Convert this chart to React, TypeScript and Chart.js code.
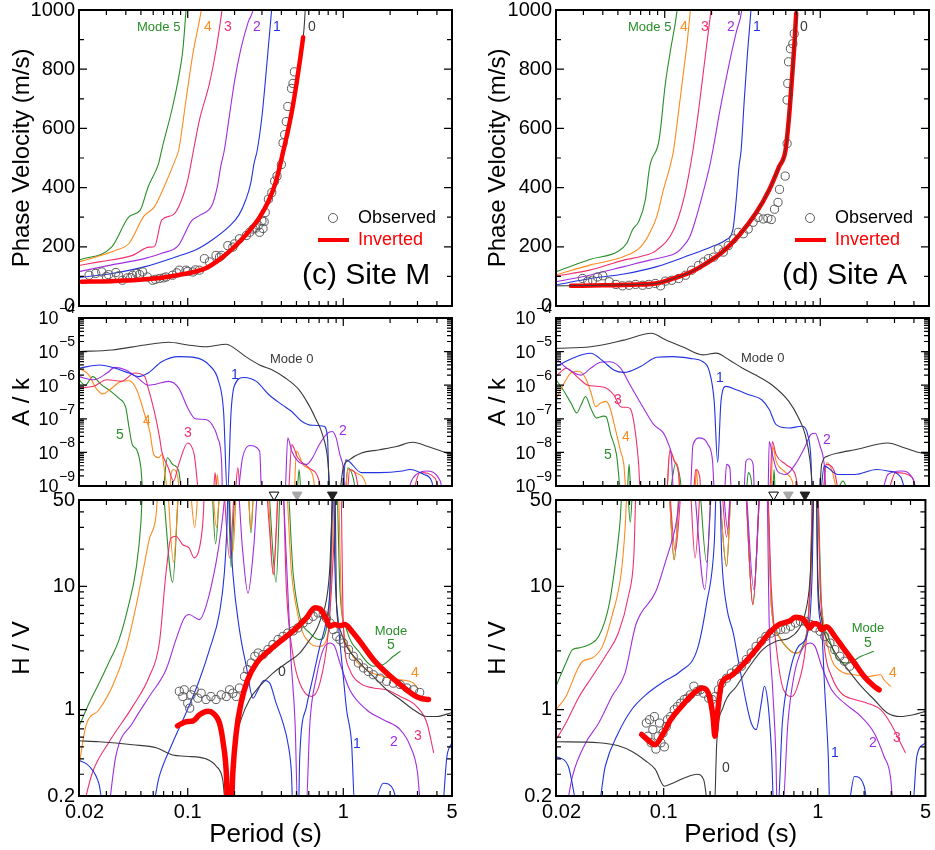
import React, { useEffect, useRef } from 'react';
import { Chart, registerables } from 'chart.js';
Chart.register(...registerables);

type P = [number, number];

// ================= Site M (left column) =================
// Phase velocity (m/s) vs period (s)
const mPv0: P[] = [[0.02,84],[0.03,86],[0.05,90],[0.08,100],[0.12,122],[0.16,152],[0.2,200],[0.25,255],[0.3,315],[0.35,385],[0.4,500],[0.45,625],[0.5,750],[0.54,865],[0.56,940],[0.575,1040]];
const mPv1: P[] = [[0.02,96],[0.0325,110],[0.0533,133],[0.0875,169],[0.112,189],[0.1435,223],[0.184,268],[0.213,307],[0.236,358],[0.254,414],[0.267,482],[0.28,527],[0.3,640],[0.318,780],[0.333,900],[0.346,1000],[0.35,1040]];
const mPv2: P[] = [[0.02,116],[0.0325,139],[0.0533,161],[0.068,178],[0.0875,206],[0.096,246],[0.105,285],[0.12,307],[0.1435,341],[0.155,403],[0.163,471],[0.172,527],[0.185,640],[0.2,760],[0.22,870],[0.245,960],[0.263,1000],[0.27,1040]];
const mPv3: P[] = [[0.02,137],[0.0269,149],[0.0442,171],[0.0566,199],[0.061,200],[0.068,290],[0.08,307],[0.0875,335],[0.1,425],[0.109,527],[0.119,629],[0.138,752],[0.152,864],[0.166,998],[0.17,1040]];
const mPv4: P[] = [[0.02,149],[0.0269,169],[0.0345,188],[0.042,212],[0.052,302],[0.061,335],[0.072,414],[0.083,493],[0.0875,527],[0.0975,696],[0.108,853],[0.122,998],[0.125,1040]];
const mPv5: P[] = [[0.02,155],[0.0325,200],[0.042,302],[0.0495,324],[0.0557,403],[0.065,482],[0.068,527],[0.08,674],[0.0883,785],[0.093,864],[0.0975,998],[0.099,1040]];
const mPvInv: P[] = [[0.0208,82],[0.0325,84],[0.0533,90],[0.0875,105],[0.13,127],[0.158,155],[0.195,195],[0.236,240],[0.29,300],[0.333,358],[0.366,414],[0.39,470],[0.41,520],[0.44,590],[0.47,665],[0.5,750],[0.53,840],[0.552,908]];
const mPvObs: P[] = [[0.0232,104],[0.0256,110],[0.028,115],[0.03,100],[0.031,106],[0.0345,113],[0.036,102],[0.038,87],[0.041,95],[0.043,96],[0.0442,104],[0.047,110],[0.049,106],[0.0513,115],[0.055,98],[0.0595,87],[0.062,90],[0.0657,93],[0.07,95],[0.0725,98],[0.08,104],[0.085,112],[0.0883,121],[0.0975,121],[0.1,117],[0.108,115],[0.112,122],[0.119,121],[0.128,160],[0.138,149],[0.152,171],[0.16,165],[0.165,171],[0.181,204],[0.195,199],[0.2,210],[0.215,227],[0.238,238],[0.25,249],[0.263,260],[0.273,263],[0.284,272],[0.29,249],[0.3,288],[0.305,262],[0.31,285],[0.315,316],[0.33,361],[0.347,383],[0.362,422],[0.375,439],[0.4,478],[0.41,551],[0.42,579],[0.43,623],[0.44,674],[0.465,735],[0.475,752],[0.485,791]];

// Amplitude A/k
const mAk0: P[] = [[0.02,1.0e-5],[0.0325,1.12e-5],[0.0533,1.58e-5],[0.0754,1.9e-5],[0.1,1.58e-5],[0.13,1.4e-5],[0.177,1.65e-5],[0.2,1.25e-5],[0.236,7.1e-6],[0.29,4.0e-6],[0.35,2.85e-6],[0.42,1.7e-6],[0.52,7.3e-7],[0.6,2.6e-7],[0.665,1.0e-7],[0.735,3.4e-8],[0.792,6.9e-9],[0.815,1.2e-9],[0.825,4e-10],[0.93,4e-10],[1.0,3.5e-9],[1.1,6.1e-9],[1.31,9.6e-9],[1.71,1.2e-8],[2.2,1.5e-8],[2.8,2.0e-8],[3.5,1.5e-8],[4.6,9.6e-9],[5.0,8.7e-9]];
const mAk1: P[] = [[0.02,3.2e-6],[0.0273,4.0e-6],[0.0325,3.4e-6],[0.0418,2.3e-6],[0.048,1.8e-6],[0.0557,2.3e-6],[0.068,5.0e-6],[0.0875,7.1e-6],[0.112,6.6e-6],[0.137,4.0e-6],[0.158,1.3e-6],[0.17,1.65e-7],[0.18,5e-10],[0.19,1.65e-7],[0.2,1.0e-6],[0.23,1.7e-6],[0.276,1.3e-6],[0.333,5.2e-7],[0.405,2.6e-7],[0.466,1.65e-7],[0.54,8.5e-8],[0.634,6.4e-8],[0.75,6.0e-8],[0.792,2.7e-8],[0.815,4e-10],[0.97,4e-10],[1.04,6e-9],[1.31,2.5e-9],[1.71,2.5e-9],[2.4,2.8e-9],[2.68,3.1e-9],[3.3,2.2e-9],[3.7,1.4e-9],[3.9,4e-10]];
const mAk2: P[] = [[0.02,1.8e-6],[0.0248,1.45e-6],[0.0303,2.3e-6],[0.034,3.4e-6],[0.04,2.85e-6],[0.048,1.6e-6],[0.0557,1.0e-6],[0.061,1.05e-6],[0.0754,1.3e-6],[0.0875,8.2e-7],[0.1,2.1e-7],[0.112,1.0e-7],[0.13,9.5e-8],[0.1435,6.7e-8],[0.156,2.7e-8],[0.165,5.5e-9],[0.168,4e-10],[0.206,4e-10],[0.225,6.9e-9],[0.25,1.6e-8],[0.29,1.1e-8],[0.3,4e-10],[0.42,4e-10],[0.44,2.7e-8],[0.466,1.1e-8],[0.51,5.5e-9],[0.58,4.4e-9],[0.634,6.9e-9],[0.7,1.7e-8],[0.79,3.7e-8],[0.85,4.2e-8],[0.9,2.7e-8],[0.95,8.7e-9],[1.0,3.5e-9],[1.04,4e-10],[2.45,4e-10],[2.8,1.7e-9],[3.4,2.8e-9],[4.2,1.4e-9],[4.4,4e-10]];
const mAk3: P[] = [[0.02,8.2e-7],[0.0248,9.3e-7],[0.0303,1.45e-6],[0.0375,1.3e-6],[0.0456,2.3e-6],[0.053,1.8e-6],[0.0557,8.2e-7],[0.061,1.65e-7],[0.066,2.7e-8],[0.068,1.1e-8],[0.075,3.5e-9],[0.081,1.4e-9],[0.0875,4.4e-9],[0.1,1.9e-8],[0.11,8.7e-9],[0.12,4e-10],[0.145,4e-10],[0.15,2.5e-9],[0.155,4e-10],[0.2,4e-10],[0.21,3.5e-9],[0.22,4e-10],[0.44,4e-10],[0.466,1.7e-8],[0.51,6.9e-9],[0.6,3.5e-9],[0.7,1.4e-9],[0.73,4e-10],[1.05,4e-10],[1.1,3.1e-9],[1.2,2.2e-9],[1.3,4e-10],[2.7,4e-10],[3.1,2.5e-9],[3.9,1.7e-9],[4.2,4e-10]];
const mAk4: P[] = [[0.02,3.2e-6],[0.0232,2.0e-6],[0.0257,8.2e-7],[0.0285,5.5e-7],[0.031,6.9e-7],[0.0375,1.3e-6],[0.042,1.35e-6],[0.047,7.3e-7],[0.053,1.3e-7],[0.057,4.2e-8],[0.0605,8.6e-9],[0.065,6.9e-9],[0.068,8.6e-9],[0.0715,2.2e-9],[0.076,4e-10],[0.078,2.2e-9],[0.081,3.1e-9],[0.086,2.0e-9],[0.09,4e-10],[0.15,4e-10],[0.155,2.2e-9],[0.16,4e-10],[0.48,4e-10],[0.5,1.1e-8],[0.55,4.4e-9],[0.634,2.2e-9],[0.68,4e-10],[1.02,4e-10],[1.07,3.1e-9],[1.2,2.5e-9],[1.4,1.1e-9],[1.45,4e-10]];
const mAk5: P[] = [[0.02,1.45e-6],[0.0219,1.0e-6],[0.0245,1.8e-6],[0.0275,1.1e-6],[0.0325,6.2e-7],[0.036,4.1e-7],[0.04,2.1e-7],[0.042,5.3e-8],[0.044,1.7e-8],[0.047,1.2e-8],[0.05,3.5e-9],[0.052,4e-10],[0.068,4e-10],[0.074,6.9e-9],[0.08,4.4e-9],[0.0875,2.8e-9],[0.093,4e-10],[0.5,4e-10],[0.52,3.1e-9],[0.54,4e-10],[1.02,4e-10],[1.07,3.5e-9],[1.16,1.7e-9],[1.22,4e-10]];

// H/V spectral ratio
const mHv0: P[] = [[0.02,0.56],[0.0269,0.55],[0.0442,0.52],[0.0634,0.49],[0.08,0.43],[0.0975,0.42],[0.131,0.4],[0.152,0.35],[0.168,0.27],[0.177,0.15],[0.19,0.15],[0.205,0.57],[0.22,0.83],[0.25,1.21],[0.29,1.55],[0.353,1.98],[0.431,2.39],[0.525,2.88],[0.61,3.7],[0.673,4.46],[0.725,5.71],[0.78,7.8],[0.82,14.5],[0.84,32.5],[0.86,90],[0.88,90],[0.906,6.88],[0.952,4.46],[1.05,3.26],[1.28,2.39],[1.56,1.86],[1.9,1.45],[2.32,1.21],[2.83,1.0],[3.45,0.88],[3.99,0.88],[5.0,0.95]];
const mHv1: P[] = [[0.02,0.39],[0.0232,0.35],[0.0269,0.25],[0.029,0.15],[0.058,0.15],[0.0657,0.29],[0.08,0.54],[0.0975,0.94],[0.119,1.75],[0.138,3.07],[0.16,6.08],[0.172,12.8],[0.179,32.5],[0.183,90],[0.187,32.5],[0.195,12.8],[0.215,4.46],[0.238,2.25],[0.263,1.24],[0.28,1.41],[0.31,1.73],[0.336,1.65],[0.37,1.13],[0.41,0.78],[0.44,0.54],[0.464,0.31],[0.475,0.15],[0.515,0.15],[0.525,0.42],[0.58,1.06],[0.64,1.86],[0.707,3.26],[0.78,5.37],[0.82,9.4],[0.845,37],[0.865,90],[0.88,17.5],[0.93,5.04],[1.0,1.86],[1.05,1.0],[1.13,0.54],[1.19,0.15],[1.5,0.15],[1.81,0.254],[2.1,0.224],[2.3,0.15],[4.3,0.15],[4.64,0.42],[5.0,0.54]];
const mHv2: P[] = [[0.031,0.15],[0.0345,0.42],[0.0442,0.78],[0.0566,1.28],[0.0725,2.11],[0.084,3.7],[0.095,5.54],[0.102,5.9],[0.119,5.37],[0.131,6.88],[0.152,15.5],[0.164,28.7],[0.172,50],[0.178,90],[0.205,90],[0.225,20],[0.244,8.8],[0.265,20],[0.29,90],[0.4,90],[0.43,17.5],[0.46,2.71],[0.49,0.78],[0.51,0.15],[0.575,0.15],[0.61,0.78],[0.673,1.86],[0.743,3.07],[0.82,3.47],[0.88,3.26],[0.952,2.39],[1.1,1.45],[1.41,1.0],[1.81,0.83],[2.32,0.69],[2.69,0.51],[3.0,0.31],[3.15,0.15]];
const mHv3: P[] = [[0.021,0.15],[0.0244,0.31],[0.031,0.54],[0.0442,1.06],[0.0566,1.86],[0.0657,3.47],[0.0725,12.8],[0.078,24.6],[0.084,25.4],[0.093,21.7],[0.102,20.5],[0.11,17.0],[0.119,20.5],[0.125,32.5],[0.131,90],[0.165,90],[0.186,17],[0.205,90],[0.31,90],[0.335,30],[0.355,12.5],[0.372,30],[0.39,90],[0.405,90],[0.431,9.4],[0.476,2.71],[0.525,1.64],[0.625,1.28],[0.707,1.64],[0.8,4.18],[0.862,17.5],[0.91,90],[0.96,90],[1.0,5.04],[1.1,2.11],[1.28,1.64],[1.56,1.5],[1.9,1.45],[2.32,1.28],[2.97,1.06],[3.45,0.78],[3.81,0.45]];
const mHv4: P[] = [[0.02,0.35],[0.0221,0.73],[0.0269,1.0],[0.0328,1.55],[0.04,3.07],[0.0465,6.88],[0.0513,12.8],[0.0566,24],[0.0625,37],[0.066,90],[0.072,90],[0.081,15.7],[0.09,90],[0.1,90],[0.111,30],[0.12,90],[0.14,90],[0.153,30],[0.165,90],[0.18,90],[0.195,19],[0.21,90],[0.24,90],[0.255,29],[0.27,90],[0.32,90],[0.355,12.4],[0.39,90],[0.42,90],[0.465,12.8],[0.525,5.04],[0.61,3.47],[0.707,3.26],[0.8,4.18],[0.84,12.8],[0.875,90],[0.92,90],[0.975,6.88],[1.1,3.07],[1.41,2.11],[1.81,1.86],[2.32,1.75],[2.83,1.64],[3.0,1.5]];
const mHv5: P[] = [[0.02,0.73],[0.0232,1.13],[0.0269,1.64],[0.031,2.39],[0.0362,3.7],[0.041,6.47],[0.0465,13.7],[0.05,32.5],[0.052,90],[0.066,90],[0.08,10.8],[0.09,90],[0.14,90],[0.151,22],[0.165,90],[0.18,90],[0.19,14.2],[0.205,90],[0.24,90],[0.255,27],[0.27,90],[0.32,90],[0.37,10.8],[0.4,90],[0.43,90],[0.476,12.8],[0.525,5.71],[0.61,4.18],[0.707,3.7],[0.8,5.71],[0.84,17.5],[0.87,90],[0.9,90],[0.952,9.4],[1.05,4.46],[1.28,2.88],[1.56,2.25],[1.81,2.32],[2.1,2.71],[2.32,2.97]];
const mHvInv: P[] = [[0.086,0.74],[0.0975,0.8],[0.108,0.81],[0.119,0.91],[0.135,0.97],[0.145,0.94],[0.16,0.78],[0.169,0.54],[0.177,0.31],[0.181,0.15],[0.19,0.15],[0.195,0.31],[0.205,0.65],[0.22,1.13],[0.243,1.75],[0.277,2.39],[0.32,2.88],[0.37,3.37],[0.431,3.93],[0.5,4.6],[0.58,5.54],[0.657,6.7],[0.707,6.56],[0.78,5.37],[0.82,4.74],[0.88,4.9],[0.952,4.8],[1.025,4.9],[1.16,4.18],[1.35,3.26],[1.56,2.55],[1.9,1.98],[2.32,1.6],[2.83,1.32],[3.12,1.24],[3.53,1.21]];
const mHvObs: P[] = [[0.0883,1.41],[0.093,1.28],[0.095,1.45],[0.1,1.13],[0.103,1.03],[0.105,1.32],[0.11,1.45],[0.116,1.24],[0.122,1.36],[0.131,1.21],[0.141,1.28],[0.152,1.21],[0.164,1.32],[0.177,1.28],[0.186,1.45],[0.195,1.36],[0.205,1.28],[0.215,1.5],[0.232,1.86],[0.243,2.11],[0.256,2.39],[0.27,2.71],[0.284,2.88],[0.305,2.8],[0.328,3.07],[0.353,3.37],[0.381,3.7],[0.41,3.93],[0.44,4.18],[0.476,4.35],[0.51,4.6],[0.552,5.04],[0.595,5.37],[0.64,5.71],[0.69,6.08],[0.743,5.9],[0.78,5.5],[0.82,5.04],[0.862,4.46],[0.906,3.93],[0.952,3.7],[1.0,3.47],[1.08,3.07],[1.16,2.71],[1.25,2.39],[1.35,2.18],[1.45,2.04],[1.56,1.92],[1.72,1.8],[1.9,1.7],[2.1,1.64],[2.32,1.6],[2.56,1.5],[2.83,1.45],[3.1,1.38]];
const mMarks: number[] = [0.359, 0.505, 0.85];

// ================= Site A (right column) =================
const aPv0: P[] = [[0.02,68],[0.04,70],[0.06,72],[0.089,77],[0.114,93],[0.145,113],[0.185,144],[0.237,184],[0.302,240],[0.385,313],[0.469,392],[0.543,470],[0.598,527],[0.63,640],[0.66,780],[0.685,900],[0.71,1000],[0.72,1040]];
const aPv1: P[] = [[0.02,71],[0.0334,93],[0.0546,108],[0.0889,133],[0.145,172],[0.2,200],[0.247,223],[0.274,257],[0.288,358],[0.3,470],[0.31,527],[0.325,700],[0.34,850],[0.358,998],[0.362,1040]];
const aPv2: P[] = [[0.02,82],[0.0334,105],[0.0546,133],[0.08,155],[0.102,167],[0.117,178],[0.128,195],[0.145,234],[0.16,302],[0.176,381],[0.194,470],[0.204,527],[0.23,680],[0.26,820],[0.29,930],[0.313,1000],[0.318,1040]];
const aPv3: P[] = [[0.02,101],[0.0334,122],[0.0546,155],[0.07,167],[0.0889,189],[0.114,257],[0.132,358],[0.142,437],[0.152,527],[0.165,660],[0.178,800],[0.19,920],[0.198,998],[0.201,1040]];
const aPv4: P[] = [[0.02,105],[0.0334,139],[0.0546,167],[0.07,200],[0.08,246],[0.0889,302],[0.098,392],[0.108,470],[0.114,527],[0.123,660],[0.132,790],[0.14,900],[0.146,998],[0.148,1040]];
const aPv5: P[] = [[0.02,116],[0.0334,158],[0.05,184],[0.057,212],[0.062,257],[0.068,285],[0.075,358],[0.08,470],[0.092,561],[0.101,752],[0.109,865],[0.12,998],[0.122,1040]];
const aPvInv: P[] = [[0.025,68],[0.04,70],[0.06,72],[0.089,77],[0.114,93],[0.145,113],[0.185,144],[0.237,184],[0.302,240],[0.385,313],[0.469,392],[0.543,470],[0.598,527],[0.63,640],[0.66,780],[0.685,900],[0.7,989]];
const aPvObs: P[] = [[0.0296,93],[0.032,84],[0.0344,87],[0.037,98],[0.04,102],[0.044,82],[0.0485,73],[0.0535,68],[0.059,70],[0.065,73],[0.072,70],[0.079,73],[0.087,76],[0.094,68],[0.101,84],[0.111,87],[0.123,93],[0.136,104],[0.149,121],[0.165,137],[0.178,149],[0.191,160],[0.206,165],[0.221,193],[0.238,182],[0.256,204],[0.276,227],[0.297,249],[0.32,244],[0.344,260],[0.37,283],[0.398,299],[0.43,294],[0.46,296],[0.484,292],[0.508,327],[0.535,350],[0.547,394],[0.595,439],[0.612,549],[0.612,696],[0.618,752],[0.625,825],[0.643,869],[0.666,886],[0.68,920]];

const aAk0: P[] = [[0.02,1.25e-5],[0.0334,1.4e-5],[0.0546,2.2e-5],[0.082,3.5e-5],[0.102,2.2e-5],[0.13,1.4e-5],[0.176,8e-6],[0.214,9e-6],[0.26,5.6e-6],[0.317,3.2e-6],[0.385,2.0e-6],[0.492,1.0e-6],[0.628,3.3e-7],[0.726,1.05e-7],[0.8,3.4e-8],[0.86,5.5e-9],[0.885,1.2e-9],[0.895,4e-10],[0.98,4e-10],[1.02,4.4e-9],[1.12,7.8e-9],[1.3,9.6e-9],[1.67,1.2e-8],[2.72,1.9e-8],[3.5,1.35e-8],[4.44,9.6e-9],[5.0,8.7e-9]];
const aAk1: P[] = [[0.02,3.6e-6],[0.026,6.6e-6],[0.0334,8.9e-6],[0.0405,5.0e-6],[0.047,2.85e-6],[0.0546,2.4e-6],[0.07,3.6e-6],[0.0889,6.8e-6],[0.114,7.1e-6],[0.145,6.3e-6],[0.176,5.0e-6],[0.194,2.5e-6],[0.208,3.3e-7],[0.219,5e-9],[0.23,3.3e-7],[0.247,9.2e-7],[0.288,7.3e-7],[0.348,5.2e-7],[0.42,3.7e-7],[0.47,1.9e-7],[0.52,6.7e-8],[0.628,5.3e-8],[0.76,6.0e-8],[0.83,3.4e-8],[0.87,6.9e-9],[0.89,4e-10],[0.99,4e-10],[1.06,3.9e-9],[1.3,2.2e-9],[1.67,2.2e-9],[2.3,3.1e-9],[2.72,2.8e-9],[3.3,1.8e-9],[3.6,4e-10]];
const aAk2: P[] = [[0.02,6.3e-6],[0.0235,3.2e-6],[0.029,2.0e-6],[0.0334,3.2e-6],[0.0385,4.8e-6],[0.0445,5.0e-6],[0.052,3.2e-6],[0.06,1.0e-6],[0.073,2.1e-7],[0.085,6.7e-8],[0.098,3.8e-8],[0.105,1.9e-8],[0.11,8.6e-9],[0.115,4e-10],[0.145,4e-10],[0.152,1.7e-8],[0.168,2.7e-8],[0.19,1.7e-8],[0.203,5.5e-9],[0.21,4e-10],[0.24,4e-10],[0.25,4.4e-9],[0.262,3.5e-9],[0.27,4e-10],[0.32,4e-10],[0.333,5.5e-9],[0.35,6.5e-9],[0.37,4.4e-9],[0.38,4e-10],[0.46,4e-10],[0.47,2.1e-8],[0.492,8.6e-9],[0.53,2.8e-9],[0.6,2.2e-9],[0.69,4.4e-9],[0.8,1.5e-8],[0.87,3.4e-8],[0.93,3.7e-8],[0.99,1.7e-8],[1.06,4.4e-9],[1.1,4e-10],[2.4,4e-10],[2.72,2.2e-9],[3.3,2.8e-9],[4.0,1.4e-9],[4.2,4e-10]];
const aAk3: P[] = [[0.02,1.8e-6],[0.0233,3.2e-6],[0.028,1.6e-6],[0.032,1.0e-6],[0.0365,9.3e-7],[0.042,8.2e-7],[0.047,5.2e-7],[0.052,2.3e-7],[0.056,2.2e-7],[0.06,2.0e-7],[0.062,1.3e-7],[0.065,3.4e-8],[0.068,4.4e-9],[0.07,4e-10],[0.102,4e-10],[0.108,1.2e-8],[0.115,5.5e-9],[0.123,2.2e-9],[0.126,4e-10],[0.152,4e-10],[0.158,3.1e-9],[0.168,1.8e-9],[0.172,4e-10],[0.47,4e-10],[0.492,2.1e-8],[0.52,8.6e-9],[0.6,4.4e-9],[0.69,2.2e-9],[0.75,4e-10],[1.03,4e-10],[1.09,4.4e-9],[1.23,2.8e-9],[1.35,4e-10],[2.6,4e-10],[3.05,2.5e-9],[3.9,1.8e-9],[4.2,4e-10]];
const aAk4: P[] = [[0.02,3.7e-7],[0.0222,1.0e-6],[0.0252,2.4e-6],[0.028,2.6e-6],[0.031,1.6e-6],[0.0334,6.5e-7],[0.036,2.3e-7],[0.0385,2.9e-7],[0.042,3.3e-7],[0.0445,2.1e-7],[0.048,5.3e-8],[0.052,1.1e-8],[0.0546,4.4e-9],[0.057,4e-10],[0.102,4e-10],[0.108,1.1e-8],[0.115,6e-9],[0.123,2.2e-9],[0.126,4e-10],[0.155,4e-10],[0.16,3.1e-9],[0.165,4e-10],[0.48,4e-10],[0.495,1.5e-8],[0.52,5.5e-9],[0.6,2.5e-9],[0.66,1.4e-9],[0.7,4e-10],[1.03,4e-10],[1.1,5e-9],[1.2,2.5e-9],[1.3,4e-10]];
const aAk5: P[] = [[0.02,1.45e-6],[0.0222,7.3e-7],[0.025,2.9e-7],[0.0272,1.5e-7],[0.029,2.6e-7],[0.031,4.6e-7],[0.0334,2.1e-7],[0.0365,1.05e-7],[0.0405,1.2e-7],[0.042,1.15e-7],[0.045,3.4e-8],[0.049,8.6e-9],[0.053,4e-10],[0.057,4e-10],[0.059,4.4e-9],[0.061,4e-10],[0.105,4e-10],[0.118,4.9e-9],[0.126,1.5e-9],[0.13,4e-10],[0.33,4e-10],[0.345,2.5e-9],[0.36,1.5e-9],[0.37,4e-10],[0.49,4e-10],[0.505,3.1e-9],[0.515,4e-10],[1.2,4e-10],[1.4,1.4e-9],[1.55,4e-10]];

const aHv0: P[] = [[0.02,0.55],[0.0379,0.54],[0.0508,0.51],[0.0619,0.46],[0.0753,0.39],[0.088,0.33],[0.101,0.24],[0.111,0.25],[0.136,0.28],[0.165,0.3],[0.182,0.27],[0.197,0.15],[0.213,0.15],[0.221,0.54],[0.244,1.06],[0.297,1.55],[0.361,2.25],[0.439,3.07],[0.535,3.59],[0.65,3.8],[0.75,4.46],[0.83,6.08],[0.89,11.3],[0.925,32.5],[0.95,90],[0.975,90],[1.0,12.8],[1.06,5.37],[1.23,3.26],[1.57,2.11],[1.91,1.55],[2.32,1.21],[2.83,0.94],[3.44,0.88],[4.18,0.91],[5.0,0.97]];
const aHv1: P[] = [[0.02,0.42],[0.024,0.35],[0.0283,0.15],[0.037,0.15],[0.0418,0.35],[0.0508,0.65],[0.0619,1.0],[0.0787,1.36],[0.101,1.7],[0.128,2.04],[0.165,3.07],[0.19,7.3],[0.213,22.4],[0.222,90],[0.229,90],[0.238,17.5],[0.256,6.88],[0.283,4.18],[0.31,2.25],[0.344,1.13],[0.37,0.78],[0.398,0.69],[0.43,1.13],[0.45,1.55],[0.475,1.13],[0.5,0.48],[0.52,0.15],[0.55,0.15],[0.589,0.78],[0.65,1.86],[0.75,3.26],[0.87,4.46],[0.92,12.8],[0.95,90],[0.975,90],[1.0,9.4],[1.06,4.46],[1.11,1.45],[1.17,0.42],[1.2,0.15],[1.55,0.15],[1.73,0.288],[2.0,0.24],[2.15,0.15],[4.1,0.15],[4.4,0.42],[5.0,0.54]];
const aHv2: P[] = [[0.0232,0.15],[0.0256,0.29],[0.0312,0.54],[0.0379,0.78],[0.0461,1.28],[0.0561,1.98],[0.066,4.9],[0.089,9.1],[0.103,16],[0.119,30],[0.138,90],[0.15,90],[0.185,9.4],[0.21,90],[0.235,90],[0.26,29],[0.28,90],[0.33,90],[0.385,9.4],[0.43,90],[0.465,90],[0.484,5.04],[0.51,1.45],[0.535,0.42],[0.545,0.15],[0.59,0.15],[0.64,0.78],[0.7,1.86],[0.79,3.07],[0.89,3.47],[0.96,3.26],[1.06,2.25],[1.23,1.45],[1.49,1.13],[1.91,0.88],[2.32,0.65],[2.69,0.42],[2.96,0.29],[3.1,0.15]];
const aHv3: P[] = [[0.02,0.57],[0.0232,0.78],[0.0283,1.28],[0.0344,1.86],[0.0418,2.71],[0.0508,4.18],[0.059,8.3],[0.064,17.5],[0.067,90],[0.105,90],[0.119,19.3],[0.135,90],[0.145,90],[0.16,17],[0.178,90],[0.23,90],[0.256,25],[0.28,90],[0.33,90],[0.379,7.1],[0.435,90],[0.465,90],[0.5,9.4],[0.547,2.71],[0.6,1.45],[0.68,1.28],[0.75,1.64],[0.83,3.07],[0.89,9.4],[0.94,90],[0.985,90],[1.04,9.4],[1.11,3.07],[1.23,1.86],[1.42,1.36],[1.73,1.21],[2.1,1.13],[2.56,1.0],[2.96,0.78],[3.44,0.54],[3.7,0.45]];
const aHv4: P[] = [[0.02,1.0],[0.0232,1.28],[0.0275,2.11],[0.0298,2.47],[0.0344,2.62],[0.04,3.26],[0.0461,5.71],[0.053,12.8],[0.0561,28.7],[0.059,90],[0.105,90],[0.117,16.4],[0.13,90],[0.22,90],[0.256,14.5],[0.28,90],[0.33,90],[0.379,7.1],[0.435,90],[0.465,90],[0.5,6.9],[0.56,3.93],[0.65,3.07],[0.72,2.88],[0.81,3.26],[0.87,5.71],[0.915,17.5],[0.944,90],[0.985,90],[1.04,9.4],[1.11,4.46],[1.23,2.55],[1.42,2.04],[1.73,1.92],[2.1,1.86],[2.56,1.92],[2.69,1.75],[2.96,1.55]];
const aHv5: P[] = [[0.02,1.55],[0.0232,2.39],[0.0256,3.07],[0.0283,3.17],[0.033,3.37],[0.0379,3.93],[0.044,6.88],[0.0483,14.5],[0.052,32.5],[0.055,90],[0.057,90],[0.0607,33],[0.064,90],[0.105,90],[0.117,16.4],[0.13,90],[0.165,90],[0.19,15.7],[0.21,90],[0.22,90],[0.256,14.5],[0.28,90],[0.33,90],[0.379,7.1],[0.435,90],[0.465,90],[0.5,6.9],[0.56,3.93],[0.65,3.07],[0.72,2.88],[0.79,3.17],[0.89,9.4],[0.94,90],[0.985,90],[1.06,6.9],[1.17,3.93],[1.35,2.55],[1.57,2.39],[1.91,2.71],[2.3,2.97]];
const aHvInv: P[] = [[0.072,0.63],[0.083,0.54],[0.088,0.52],[0.097,0.61],[0.111,0.83],[0.136,1.13],[0.157,1.36],[0.178,1.5],[0.195,1.36],[0.209,0.88],[0.215,0.61],[0.222,0.88],[0.238,1.64],[0.269,1.86],[0.327,2.32],[0.398,3.07],[0.484,4.18],[0.56,4.9],[0.65,5.2],[0.717,5.6],[0.81,5.37],[0.89,4.6],[0.93,5.0],[1.01,4.9],[1.06,4.46],[1.14,4.7],[1.29,3.93],[1.49,3.07],[1.73,2.39],[2.0,1.86],[2.32,1.55],[2.5,1.45]];
const aHvObs: P[] = [[0.0772,0.78],[0.079,0.61],[0.081,0.83],[0.083,0.54],[0.085,0.69],[0.087,0.88],[0.089,0.48],[0.092,0.61],[0.094,0.78],[0.096,0.54],[0.099,0.65],[0.101,0.5],[0.104,0.73],[0.106,0.83],[0.111,0.88],[0.117,1.0],[0.123,1.06],[0.129,1.13],[0.136,1.21],[0.142,1.24],[0.149,1.32],[0.157,1.55],[0.165,1.41],[0.173,1.45],[0.182,1.36],[0.196,1.24],[0.206,1.21],[0.216,1.28],[0.227,1.45],[0.238,1.64],[0.256,1.8],[0.275,1.98],[0.297,2.11],[0.319,2.25],[0.344,2.55],[0.37,2.88],[0.398,3.26],[0.43,3.59],[0.461,3.93],[0.496,4.18],[0.535,4.32],[0.575,4.46],[0.618,4.5],[0.666,4.74],[0.717,5.04],[0.771,5.2],[0.83,5.2],[0.894,4.9],[0.962,4.6],[1.035,4.32],[1.11,3.93],[1.2,3.47],[1.29,3.07],[1.39,2.71],[1.49,2.47],[1.61,2.25]];
const aMarks: number[] = [0.517, 0.644, 0.826];

// ================= axis tick labels =================
const X_LABELS = [0.02, 0.1, 1, 5];
const HV_LABELS = [0.2, 1, 10, 50];
const AK_DECADES = [-9, -8, -7, -6, -5, -4];

// ================= styling =================
const FONT = "'Liberation Sans', Arial, Helvetica, sans-serif";
const C = { m0: '#3a3a3a', m1: '#2233e0', m2: '#a02ee0', m3: '#f0306c', m4: '#ff8a1e', m5: '#2a8e2a', obs: '#5a5a5a', inv: '#ff0000' };
const MARK_Y = 55;

const X_MAJOR = [0.1, 1];
const X_MINOR = [0.03, 0.04, 0.05, 0.06, 0.07, 0.08, 0.09, 0.2, 0.3, 0.4, 0.5, 0.6, 0.7, 0.8, 0.9, 2, 3, 4];
const AK_MINOR: number[] = [];
for (let n = -9; n < -4; n++) for (let k = 2; k <= 9; k++) AK_MINOR.push(k * Math.pow(10, n));
const TICKS: any = {
  pv: { major: [200, 400, 600, 800], minor: [100, 300, 500, 700, 900] },
  ak: { major: [1e-8, 1e-7, 1e-6, 1e-5], minor: AK_MINOR },
  hv: { major: [1, 10], minor: [0.3, 0.4, 0.5, 0.6, 0.7, 0.8, 0.9, 2, 3, 4, 5, 6, 7, 8, 9, 20, 30, 40] },
};

const COLS = [
  { left: 0, width: 470, axisW: 79, padR: 18, titlePad: 8 },
  { left: 470, width: 465, axisW: 86, padR: 6, titlePad: 13.6 },
];
const ROWS: any = {
  pv: { top: -20, height: 350, padT: 30, padB: 24 },
  ak: { top: 290, height: 220, padT: 28, padB: 24 },
  hv: { top: 470, height: 380, padT: 30, padB: 0 },
};

const xy = (d: P[]) => d.map(([x, y]) => ({ x, y }));
const line = (d: P[], color: string, width = 1.1) => ({
  data: xy(d), borderColor: color, backgroundColor: color, borderWidth: width,
  pointRadius: 0, pointHoverRadius: 0, fill: false, cubicInterpolationMode: 'monotone',
  borderJoinStyle: 'round', borderCapStyle: 'round',
});
const obs = (d: P[]) => ({
  data: xy(d), showLine: false, pointRadius: 4.1, pointHoverRadius: 4.1, pointBorderWidth: 1,
  pointBorderColor: C.obs, pointBackgroundColor: 'rgba(0,0,0,0)', borderColor: C.obs, backgroundColor: 'rgba(0,0,0,0)',
});
const marks = (d: number[]) => ({
  data: d.map((x) => ({ x, y: MARK_Y })), showLine: false, clip: false,
  pointStyle: 'triangle', pointRotation: 180, pointRadius: 5.6, pointHoverRadius: 5.6, pointBorderWidth: 1,
  pointBackgroundColor: ['#ffffff', '#a8a8a8', '#222222'], pointBorderColor: ['#000000', '#a8a8a8', '#222222'],
});

interface Txt { t: string; x: number; y: number; c?: string; s?: number; a?: CanvasTextAlign }
interface Leg { cx: number; cy: number; x1: number; x2: number; ly: number }

const decor = {
  id: 'decor',
  afterDatasetsDraw(chart: any, _a: any, o: any) {
    const { ctx, chartArea: a } = chart;
    const xs = chart.scales.x, ys = chart.scales.y;
    ctx.save();
    ctx.strokeStyle = '#000';
    ctx.lineWidth = 1.2;
    ctx.beginPath();
    const xt = (v: number, len: number) => {
      const p = xs.getPixelForValue(v);
      ctx.moveTo(p, a.top); ctx.lineTo(p, a.top + len);
      ctx.moveTo(p, a.bottom); ctx.lineTo(p, a.bottom - len);
    };
    const yt = (v: number, len: number) => {
      const p = ys.getPixelForValue(v);
      ctx.moveTo(a.left, p); ctx.lineTo(a.left + len, p);
      ctx.moveTo(a.right, p); ctx.lineTo(a.right - len, p);
    };
    X_MAJOR.forEach((v) => xt(v, 8));
    X_MINOR.forEach((v) => xt(v, 5));
    const t = TICKS[o.kind];
    t.major.forEach((v: number) => yt(v, 8));
    t.minor.forEach((v: number) => yt(v, 5));
    ctx.stroke();
    ctx.lineWidth = 2;
    ctx.strokeRect(a.left, a.top, a.right - a.left, a.bottom - a.top);
    if (o.kind === 'ak') {
      ctx.fillStyle = '#000';
      ctx.textAlign = 'right';
      ctx.textBaseline = 'middle';
      for (const n of AK_DECADES) {
        const p = ys.getPixelForValue(Math.pow(10, n));
        const right = a.left - 4;
        const sup = '\u2212' + String(-n);
        ctx.font = `14px ${FONT}`;
        ctx.fillText(sup, right, p - 9);
        const w = ctx.measureText(sup).width;
        ctx.font = `18px ${FONT}`;
        ctx.fillText('10', right - w - 0.5, p + 1.5);
      }
    }
    ctx.restore();
  },
  afterDraw(chart: any, _a: any, o: any) {
    const ctx = chart.ctx;
    ctx.save();
    ctx.textBaseline = 'middle';
    for (const t of o.texts as Txt[]) {
      ctx.font = `${t.s ?? 14}px ${FONT}`;
      ctx.fillStyle = t.c ?? '#000';
      ctx.textAlign = t.a ?? 'center';
      ctx.fillText(t.t, t.x - o.ox, t.y - o.oy);
    }
    const lg: Leg | undefined = o.legend;
    if (lg) {
      ctx.beginPath();
      ctx.arc(lg.cx - o.ox, lg.cy - o.oy, 4.5, 0, Math.PI * 2);
      ctx.strokeStyle = C.obs; ctx.lineWidth = 1;
      ctx.stroke();
      ctx.beginPath();
      ctx.moveTo(lg.x1 - o.ox, lg.ly - o.oy); ctx.lineTo(lg.x2 - o.ox, lg.ly - o.oy);
      ctx.strokeStyle = C.inv; ctx.lineWidth = 4;
      ctx.stroke();
    }
    ctx.restore();
  },
};

interface Spec { kind: 'pv' | 'ak' | 'hv'; col: 0 | 1; datasets: any[]; texts: Txt[]; legend?: Leg }

function buildConfig(s: Spec) {
  const cx = COLS[s.col], rw = ROWS[s.kind];
  const ds = s.datasets.map((d, i) => ({ ...d, order: s.datasets.length - i }));
  const titles = { pv: 'Phase Velocity (m/s)', ak: 'A / k', hv: 'H / V' };
  const y: any = {
    type: s.kind === 'pv' ? 'linear' : 'logarithmic',
    min: s.kind === 'pv' ? 0 : s.kind === 'ak' ? 1e-9 : 0.2,
    max: s.kind === 'pv' ? 1000 : s.kind === 'ak' ? 1e-4 : 50,
    grid: { display: false, drawTicks: false },
    border: { display: false },
    title: { display: true, text: titles[s.kind], color: '#000', font: { size: 24, family: FONT }, padding: { top: cx.titlePad, bottom: 0 } },
    ticks: { display: s.kind !== 'ak', padding: 4, color: '#000', font: { size: 20, family: FONT }, autoSkip: false, callback: (v: any) => String(v) },
    afterFit: (sc: any) => { sc.width = cx.axisW; },
  };
  if (s.kind === 'pv') y.ticks.stepSize = 200;
  if (s.kind === 'hv') y.afterBuildTicks = (sc: any) => { sc.ticks = HV_LABELS.map((v) => ({ value: v })); };
  const x: any = {
    type: 'logarithmic', min: 0.02, max: 5,
    display: s.kind === 'hv',
    grid: { display: false, drawTicks: false },
    border: { display: false },
  };
  if (s.kind === 'hv') {
    x.afterBuildTicks = (sc: any) => { sc.ticks = X_LABELS.map((v) => ({ value: v })); };
    x.ticks = { padding: 4, color: '#000', font: { size: 20, family: FONT }, autoSkip: false, maxRotation: 0, minRotation: 0, callback: (v: any) => (v === 0.02 ? '  0.02' : String(v)) };
    x.title = { display: true, text: 'Period (s)', color: '#000', font: { size: 26, family: FONT }, padding: { top: 0, bottom: 0 } };
    x.afterFit = (sc: any) => { sc.height = 54; };
  }
  return {
    type: 'line',
    data: { datasets: ds },
    options: {
      animation: false, responsive: false, devicePixelRatio: 1, events: [],
      layout: { padding: { top: rw.padT, bottom: rw.padB, left: 0, right: cx.padR } },
      scales: { x, y },
      plugins: {
        legend: { display: false }, tooltip: { enabled: false },
        decor: { kind: s.kind, texts: s.texts, legend: s.legend, ox: cx.left, oy: rw.top },
      },
    },
    plugins: [decor],
  } as any;
}

function Panel({ spec }: { spec: Spec }) {
  const ref = useRef<HTMLCanvasElement>(null);
  const cx = COLS[spec.col], rw = ROWS[spec.kind];
  useEffect(() => {
    const chart = new Chart(ref.current as HTMLCanvasElement, buildConfig(spec));
    return () => chart.destroy();
  }, []);
  return (
    <canvas ref={ref} width={cx.width} height={rw.height}
      style={{ position: 'absolute', left: cx.left, top: rw.top, width: cx.width, height: rw.height }} />
  );
}

const modeTopTexts = (xs: number[]): Txt[] => [
  { t: 'Mode 5', x: xs[0], y: 27, c: C.m5, a: 'left', s: 13 },
  { t: '4', x: xs[1], y: 27, c: C.m4 }, { t: '3', x: xs[2], y: 27, c: C.m3 },
  { t: '2', x: xs[3], y: 27, c: C.m2 }, { t: '1', x: xs[4], y: 27, c: C.m1 }, { t: '0', x: xs[5], y: 27, c: C.m0 },
];

const SPECS: Spec[] = [
  {
    kind: 'pv', col: 0,
    datasets: [line(mPv5, C.m5), line(mPv4, C.m4), line(mPv3, C.m3), line(mPv2, C.m2), line(mPv1, C.m1), line(mPv0, C.m0), obs(mPvObs), line(mPvInv, C.inv, 4.5)],
    texts: [...modeTopTexts([137, 208, 228, 257, 277, 312]),
      { t: 'Observed', x: 358, y: 218, s: 18, a: 'left' }, { t: 'Inverted', x: 358, y: 240, s: 18, a: 'left', c: C.inv },
      { t: '(c) Site M', x: 302, y: 276, s: 30, a: 'left' }],
    legend: { cx: 333, cy: 218, x1: 318, x2: 349, ly: 240 },
  },
  {
    kind: 'pv', col: 1,
    datasets: [line(aPv5, C.m5), line(aPv4, C.m4), line(aPv3, C.m3), line(aPv2, C.m2), line(aPv1, C.m1), obs(aPvObs), line(aPvInv, C.inv, 4.5), line(aPv0, C.m0, 1)],
    texts: [...modeTopTexts([628, 684, 705, 731, 757, 804]),
      { t: 'Observed', x: 835, y: 218, s: 18, a: 'left' }, { t: 'Inverted', x: 835, y: 240, s: 18, a: 'left', c: C.inv },
      { t: '(d) Site A', x: 782, y: 276, s: 30, a: 'left' }],
    legend: { cx: 810, cy: 218, x1: 795, x2: 826, ly: 240 },
  },
  {
    kind: 'ak', col: 0,
    datasets: [line(mAk5, C.m5), line(mAk4, C.m4), line(mAk3, C.m3), line(mAk2, C.m2), line(mAk1, C.m1), line(mAk0, C.m0)],
    texts: [{ t: 'Mode 0', x: 270, y: 359, c: C.m0, a: 'left', s: 13 }, { t: '1', x: 235, y: 375, c: C.m1 }, { t: '2', x: 343, y: 431, c: C.m2 },
      { t: '3', x: 188, y: 433, c: C.m3 }, { t: '4', x: 147, y: 421, c: C.m4 }, { t: '5', x: 120, y: 435, c: C.m5 }],
  },
  {
    kind: 'ak', col: 1,
    datasets: [line(aAk5, C.m5), line(aAk4, C.m4), line(aAk3, C.m3), line(aAk2, C.m2), line(aAk1, C.m1), line(aAk0, C.m0)],
    texts: [{ t: 'Mode 0', x: 741, y: 358, c: C.m0, a: 'left', s: 13 }, { t: '1', x: 720, y: 378, c: C.m1 }, { t: '2', x: 827, y: 440, c: C.m2 },
      { t: '3', x: 618, y: 400, c: C.m3 }, { t: '4', x: 626, y: 437, c: C.m4 }, { t: '5', x: 608, y: 455, c: C.m5 }],
  },
  {
    kind: 'hv', col: 0,
    datasets: [line(mHv5, C.m5), line(mHv4, C.m4), line(mHv3, C.m3), line(mHv2, C.m2), line(mHv1, C.m1), line(mHv0, C.m0), obs(mHvObs), line(mHvInv, C.inv, 5.5), marks(mMarks)],
    texts: [{ t: '0', x: 282, y: 672, c: C.m0 }, { t: '1', x: 357, y: 744, c: C.m1 }, { t: '2', x: 394, y: 742, c: C.m2 },
      { t: '3', x: 418, y: 736, c: C.m3 }, { t: '4', x: 415, y: 673, c: C.m4 },
      { t: 'Mode', x: 391, y: 631, c: C.m5, s: 13 }, { t: '5', x: 391, y: 645, c: C.m5 }],
  },
  {
    kind: 'hv', col: 1,
    datasets: [line(aHv5, C.m5), line(aHv4, C.m4), line(aHv3, C.m3), line(aHv2, C.m2), line(aHv1, C.m1), line(aHv0, C.m0), obs(aHvObs), line(aHvInv, C.inv, 5.5), marks(aMarks)],
    texts: [{ t: '0', x: 726, y: 768, c: C.m0 }, { t: '1', x: 835, y: 753, c: C.m1 }, { t: '2', x: 873, y: 743, c: C.m2 },
      { t: '3', x: 897, y: 738, c: C.m3 }, { t: '4', x: 893, y: 673, c: C.m4 },
      { t: 'Mode', x: 868, y: 628, c: C.m5, s: 13 }, { t: '5', x: 868, y: 643, c: C.m5 }],
  },
];

export default function App() {
  return (
    <div style={{ position: 'absolute', left: 0, top: 0, width: 935, height: 850, overflow: 'hidden', background: '#fff' }}>
      {SPECS.map((s, i) => <Panel key={i} spec={s} />)}
    </div>
  );
}
